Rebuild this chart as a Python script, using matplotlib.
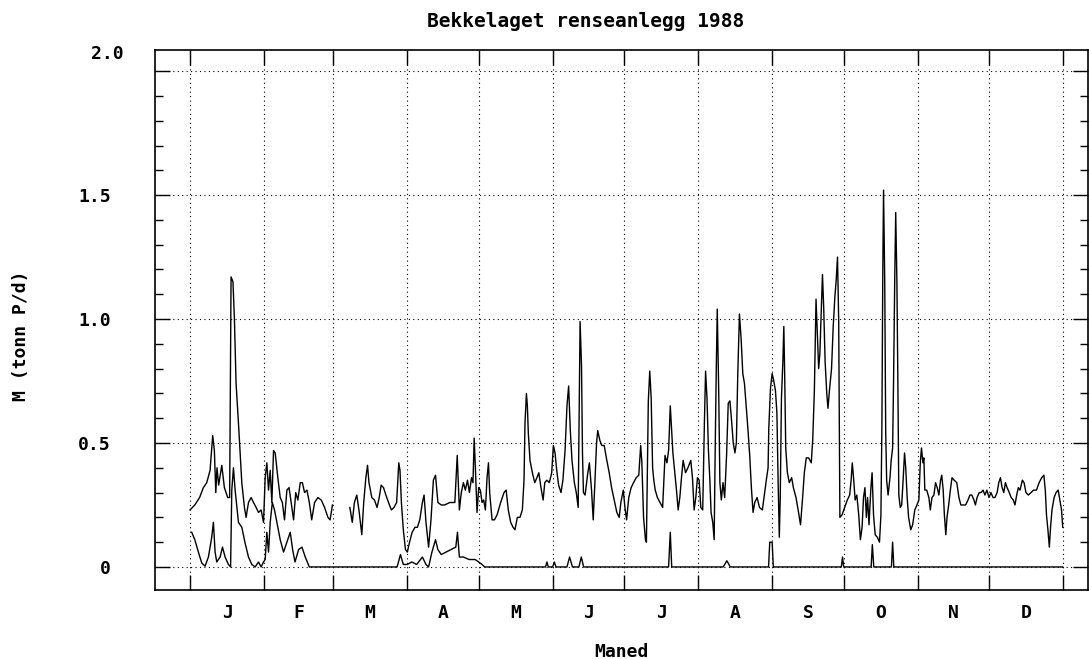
import numpy as np
import matplotlib
matplotlib.use("Agg")
import matplotlib.pyplot as plt
from matplotlib.ticker import FixedLocator, MultipleLocator, NullFormatter

# dag i aaret (0 = 1. januar)
dag_tot = [0, 2, 4, 5.6, 7, 8.4, 9.5, 10.2, 10.8, 11.3, 12, 13.3, 14.4, 15.8, 16.6, 17.2, 18, 18.6, 19.3, 20.3,
           21.7, 22.8, 23.5, 24.5, 25.6, 26.6, 27.7, 28.7, 29.8, 30.8, 31.5, 32.2, 32.9, 33.6, 34.3, 35, 35.7,
           36.8, 37.8, 38.7, 39.6, 40.6, 41.5, 42.4, 43.4, 44.3, 45.2, 46.2, 47.1, 48, 49, 50, 51, 52.2, 53.6,
           55, 56.4, 57.8, 58.7, 59.7,
           63,
           67, 68, 68.9, 69.9, 70.8, 72, 72.8, 73.7, 74.4, 75, 76.2, 77.3, 78.4, 79.3, 80.1, 81.1, 82.1, 83.2,
           84.4, 85.5, 86.6, 87.5, 88, 88.6, 89.4, 90.3, 91.1, 92, 93.1, 94.3, 95.3, 96.3, 97.4, 98.1, 98.9,
           100, 101, 102, 102.9, 103.9, 105.3, 106.7, 108.9, 111, 112, 112.9, 113.7, 114.6, 115.4, 116.3,
           117.1, 118, 118.6, 119.1, 119.6, 120.3,
           121, 121.7, 122.4, 123.1, 123.8, 124.5, 125.1, 125.6, 126.6, 127.6, 128.7, 130.2, 131.6, 132.5,
           133.4, 134.4, 135.4, 136.2, 137.2, 138.3, 139.3, 140, 140.4, 141, 141.4, 141.8, 142.5, 143.5, 144.5,
           145.4, 146.2, 147.1, 148, 148.7, 149.6, 150.6, 151.6, 152.3, 153, 153.7, 154.5, 155.5, 156.3, 157.2,
           158, 158.7, 159.4, 160.1, 161.1, 161.9, 162.7, 163.1, 163.5, 164.1, 164.5, 164.9, 165.6, 166.6,
           167.4, 168.3, 169, 169.7, 170.4, 170.9, 171.8, 172.6, 173.6, 174.7, 175.7, 176.7, 177.8, 178.9, 179.9,
           180.6, 181.6, 182.3, 183, 183.9, 184.9, 185.9, 187, 188.1, 188.9, 189.4, 190.1, 190.9, 191.3, 191.7,
           192.1, 192.7, 193.3, 193.9, 194.4, 195, 195.9, 197, 198.1, 199.1, 199.9, 200.6, 201.3, 201.9, 202.4,
           203.1, 203.9, 204.6, 205.3, 206, 206.7, 207.7, 208.7, 209.9, 210.6, 211.3, 212, 212.7, 213.4, 214.1,
           214.9, 215.6, 216.1, 216.7, 217.3, 217.9, 218.4, 219.1, 219.7, 220.1, 220.6, 221, 221.6, 222.1,
           222.7, 223.4, 224.1, 224.9, 225.6, 226.3, 227, 227.7, 228.4, 229, 229.6, 230.3, 231, 231.7, 232.4,
           233.1, 233.9, 234.6, 235.3, 236, 236.7, 237.7, 238.7, 239.9, 241, 241.7, 242.3,
           242.6, 243.3, 244, 244.7, 245.4, 246, 246.5, 247, 247.4, 247.9, 248.5, 248.9, 249.3, 249.7, 250.4,
           251.2, 252.2, 252.9, 254, 254.9, 255.9, 256.7, 257.5, 258.3, 259.3, 260.4, 261, 261.7, 262.4, 262.9,
           263.5, 264, 264.6, 265.1, 265.6, 266.2, 266.9, 267.4, 268.1, 268.9, 269.6, 270.3, 270.8, 271.4,
           271.9, 272.4, 273.3, 274.4, 275.5, 276.5, 277.1, 277.6, 278.2, 278.8, 279.5, 280.3, 281, 281.7,
           282.3, 282.9, 283.5, 284, 284.6, 285.4, 285.9, 286.5, 287.2, 288.1, 289, 289.6, 290, 290.4, 290.7,
           291.2, 291.6, 292, 292.6, 293.4, 293.9, 294.5, 294.9, 295.4, 295.8, 296.3, 296.7, 297.1, 297.7,
           298.3, 298.9, 299.5, 300, 300.6, 301.2, 302.1, 302.9, 303.8, 304.7,
           305.5, 306.1, 306.6, 307.2, 307.6, 308, 308.8, 309.7, 310.3, 311, 311.8, 312.5, 313.2, 313.9, 314.6,
           315.1, 315.7, 316.2, 316.8, 317.3, 318, 318.7, 319.4, 320.3, 321.4, 322.3, 323.1, 324.2, 325.1,
           326.1, 326.9, 327.7, 328.6, 329.2, 329.9, 330.8, 331.6, 332.4, 333.2, 334, 334.9, 335.7, 336.6,
           337.4, 338.3, 339, 339.7, 340.4, 341.1, 341.8, 342.5, 343.4, 344.2, 345.1, 345.8, 346.5, 347.2,
           347.9, 348.9, 349.6, 350.4, 351.4, 352.5, 353.6, 354.8, 355.9, 357, 357.9, 358.5, 359, 359.6, 360.2,
           360.7, 361.3, 362.2, 363, 363.9, 364.6, 365.3, 365.8]
m_tot = [.23, .25, .28, .32, .34, .39, .53, .47, .30, .40, .33, .41, .32, .28, .28, 1.17, 1.15, 1.0, .74, .58,
         .34, .24, .20, .26, .28, .26, .24, .22, .23, .18, .36, .42, .31, .39, .26, .47, .46,
         .36, .28, .26, .19, .31, .32, .26, .19, .30, .27, .34, .34, .30, .31, .26, .19, .26, .28,
         .27, .24, .20, .19, .25,
         np.nan,
         .24, .18, .26, .29, .23, .13, .26, .36, .41, .34, .28, .27, .24, .28, .33, .32, .29, .26,
         .23, .24, .26, .42, .39, .26, .15, .07, .06, .10, .14, .16, .16, .19, .26, .29, .18,
         .08, .19, .35, .37, .26, .25, .25, .26, .26, .45, .23, .30, .34, .31, .35,
         .30, .36, .34, .52, .40, .22,
         .32, .31, .26, .27, .23, .36, .42, .30, .19, .19, .21, .26, .30, .31,
         .23, .18, .16, .15, .20, .20, .23, .35, .58, .70, .65, .54, .43, .38, .34,
         .36, .38, .32, .27, .34, .35, .34, .38, .49, .46, .39, .33, .30, .35, .47,
         .65, .73, .55, .43, .34, .30, .24, .61, .99, .81, .46, .30, .29, .37,
         .42, .31, .19, .34, .50, .55, .51, .49, .49, .43, .38, .32, .27, .22, .20,
         .26, .31, .24, .19, .28, .32, .34, .36, .37, .49, .42, .20, .11, .10, .39,
         .67, .79, .68, .40, .35, .31, .28, .26, .24, .45, .42, .47, .65, .55, .46,
         .39, .31, .23, .28, .36, .43, .38, .40, .43, .36, .23, .28, .36, .35, .24,
         .23, .58, .79, .68, .47, .35, .22, .18, .11, .45, .81, 1.04, .71, .34,
         .27, .34, .28, .45, .66, .67, .59, .50, .46, .50, .78, 1.02, .92, .78, .74,
         .65, .55, .45, .32, .22, .26, .28, .24, .23, .31, .36, .40,
         .56, .72, .78, .75, .71, .62, .35, .12, .28, .68, .83, .97, .75, .48, .38,
         .34, .36, .32, .28, .23, .17, .27, .38, .44, .44, .42, .51, .71, 1.08, .95,
         .80, .86, 1.03, 1.18, 1.05, .83, .70, .64, .72, .80, .97, 1.09, 1.15, 1.25,
         .99, .20, .21, .24, .27, .29, .35, .42, .35, .27, .29, .21, .11, .16,
         .28, .32, .20, .28, .17, .32, .38, .21, .13, .12, .10, .21, .56, 1.21, 1.52,
         1.15, .55, .35, .29, .36, .43, .48, .75, 1.17, 1.43, 1.15, .75, .29, .24,
         .25, .35, .46, .40, .28, .20, .15, .17, .23, .25,
         .27, .42, .48, .42, .44, .31, .31, .28, .23, .28, .29, .34, .32, .29, .35,
         .37, .31, .21, .13, .20, .25, .31, .36, .35, .34, .28, .25, .25, .25,
         .27, .29, .29, .27, .25, .28, .30, .30, .31, .29, .31, .28, .30, .28,
         .28, .30, .34, .36, .32, .30, .34, .32, .30, .28, .27, .25, .29, .32,
         .31, .35, .34, .30, .29, .30, .31, .31, .34, .36, .37, .31, .21, .15, .08,
         .16, .23, .28, .30, .31, .27, .23, .16]

dag_lav = [0.7, 2, 3.5, 4.9, 6.3, 7.7, 9.1, 9.8, 10.5, 11.2, 12.6, 13.6, 14.7, 16.1, 17, 17.5, 18.2, 18.9, 20.3,
           21.7, 23, 24.5, 25.9, 27.3, 28.7, 29.8, 30.8, 31.5, 32.2, 32.9, 33.6, 34.5, 35.4, 36.4, 37.8, 39.2,
           40.6, 42, 43, 44, 45.5, 46.9, 48.3, 50,
           86.8, 88.2, 89.4, 91, 93, 95, 97.4, 98.9, 100, 101.4, 102.9, 103.9, 105.3, 111.4, 112.1, 112.9,
           114.6, 117, 119.5, 121, 122.4, 123.5,
           149, 149.6, 150.2, 152, 152.7, 153.4, 158, 159.1, 160.3, 163, 164, 165,
           200.6, 201.3, 201.9, 223.5, 225, 226.5, 242.5, 243, 244, 244.5,
           273, 273.5, 274, 285.5, 286, 286.6, 294, 294.5, 295, 365.8]
m_lav = [.14, .11, .06, .016, .003, .04, .12, .18, .06, .02, .04, .08, .04, .01, 0, .31, .40, .31, .18,
         .16, .10, .04, .01, 0, .02, 0, .02, .03, .14, .06, .18, .26, .23, .18, .11, .06,
         .10, .14, .07, .02, .07, .08, .04, 0,
         0, .05, .01, .01, .02, .01, .04, .01, 0, .06, .11, .07, .05, .08, .14, .04,
         .04, .03, .03, .02, .01, 0,
         0, .02, 0, 0, .02, 0, 0, .04, 0, 0, .04, 0,
         0, .14, 0, 0, .025, 0, 0, .10, .10, 0,
         0, .04, 0, 0, .09, 0, 0, .10, 0, 0]

# maanedsgrenser (1988 er skuddaar) og etiketter
mnd_grense = [0, 31, 60, 91, 121, 152, 182, 213, 244, 274, 305, 335, 366]
mnd_navn = ["J", "F", "M", "A", "M", "J", "J", "A", "S", "O", "N", "D"]
y_ticks = [0, 0.5, 1.0, 1.5, 2.0]
y_labels = ["0", "0.5", "1.0", "1.5", ""]

font = "DejaVu Sans Mono"

fig = plt.figure(figsize=(10.89, 6.59), dpi=100)
ax = fig.add_axes([0.1423, 0.1047, 0.857, 0.8193])

ax.plot(dag_tot, m_tot, color="black", lw=1.0)
ax.plot(dag_lav, m_lav, color="black", lw=1.0)

ax.set_xlim(-14.7, 376.5)
ax.set_ylim(-0.093, 2.085)

midt = [(a + b) / 2 for a, b in zip(mnd_grense[:-1], mnd_grense[1:])]
ax.xaxis.set_major_locator(FixedLocator(mnd_grense))
ax.xaxis.set_major_formatter(NullFormatter())
ax.xaxis.set_minor_locator(FixedLocator(midt))
ax.set_xticklabels(mnd_navn, minor=True)
ax.tick_params(axis="x", which="major", direction="in", length=11, width=1.0, top=True, bottom=True)
ax.tick_params(axis="x", which="minor", length=0, pad=10)

ax.set_yticks(y_ticks)
ax.set_yticklabels(y_labels)
ax.yaxis.set_minor_locator(MultipleLocator(0.1))
ax.tick_params(axis="y", which="major", direction="in", length=11, width=1.0, left=True, right=True, pad=32)
ax.tick_params(axis="y", which="minor", direction="in", length=6, width=1.0, left=True, right=True)
# etiketten 2.0 staar ved rammens overkant i originalen
ax.text(-0.034, 0.992, "2.0", transform=ax.transAxes, ha="right", va="center",
        family=font, fontsize=13, fontweight="bold")

for lab in ax.get_xticklabels(minor=True) + ax.get_yticklabels():
    lab.set_family(font)
    lab.set_fontsize(13)
    lab.set_fontweight("bold")

ax.grid(True, which="major", color="black", linestyle=(0, (1, 3)), linewidth=0.8)

for s in ax.spines.values():
    s.set_linewidth(1.2)

fig.text(0.538, 0.968, "Bekkelaget renseanlegg 1988", ha="center", va="center",
         family=font, fontsize=14, fontweight="bold")
ax.set_xlabel("Maned", family=font, fontsize=13, fontweight="bold", labelpad=15)
fig.text(0.019, 0.49, "M (tonn P/d)", rotation=90, ha="center", va="center",
         family=font, fontsize=13, fontweight="bold")

fig.savefig("out.png", dpi=100)
